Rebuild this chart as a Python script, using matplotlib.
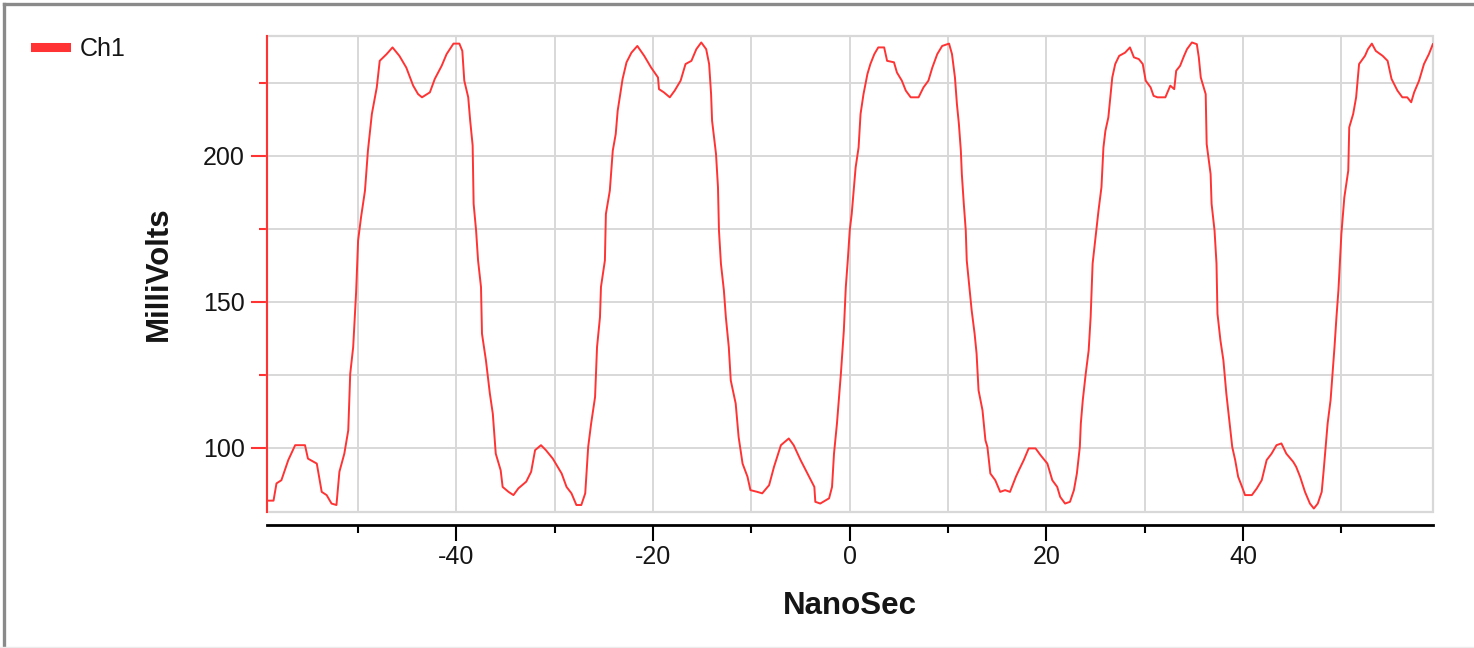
import matplotlib
matplotlib.use("Agg")
import matplotlib.pyplot as plt
from matplotlib.ticker import MultipleLocator
from matplotlib.patches import Rectangle
from matplotlib.lines import Line2D

# --- data (NanoSec, MilliVolts) ---
nanosec = [
    -59.3, -58.6, -58.3, -57.8, -57.1, -56.4, -55.4, -55.1, -54.2, -53.7,
    -53.2, -52.7, -52.2, -51.9, -51.4, -51.0, -50.8, -50.5, -50.2, -50.0,
    -49.7, -49.3, -49.0, -48.6, -48.1, -47.8, -47.1, -46.5, -45.8, -45.1,
    -44.4, -43.9, -43.5, -42.7, -42.2, -41.5, -41.0, -40.3, -39.7, -39.4,
    -39.2, -38.8, -38.6, -38.35, -38.25, -38.0, -37.8, -37.5, -37.4, -37.0,
    -36.6, -36.3, -36.0, -35.5, -35.3, -34.7, -34.2, -33.7, -32.9, -32.4,
    -32.0, -31.4, -30.9, -30.2,
    -29.3, -28.8, -28.3, -27.8, -27.3, -26.9, -26.6, -26.3, -25.9, -25.7,
    -25.4, -25.3, -24.9, -24.8, -24.4, -24.1, -23.8, -23.6, -23.1, -22.7,
    -22.2, -21.6, -20.9, -20.2, -19.5, -19.4, -18.9, -18.3, -17.8, -17.2,
    -16.7, -16.1, -15.6, -15.1, -14.6, -14.3, -14.1, -14.0, -13.6, -13.4,
    -13.3, -13.1, -12.8, -12.6, -12.3, -12.1, -11.6, -11.3, -10.9, -10.4,
    -10.1, -9.4, -8.9, -8.2, -7.7, -7.0, -6.2, -5.7, -5.0, -4.3,
    -3.6, -3.5, -3.0, -2.1, -1.8, -1.6, -1.3, -0.9, -0.6,
    -0.4, -0.2, 0.0, 0.2, 0.6, 0.9, 1.1, 1.4, 1.8, 2.1,
    2.5, 2.9, 3.5, 3.8, 4.5, 4.8, 5.3, 5.7, 6.2, 7.0,
    7.5, 8.0, 8.4, 8.9, 9.4, 10.1, 10.4, 10.7, 10.9, 11.1,
    11.3, 11.4, 11.6, 11.8, 11.9, 12.2, 12.4, 12.7, 12.9, 13.1,
    13.5, 13.8, 14.0, 14.3, 14.8, 15.3, 15.8, 16.3, 16.9, 17.2,
    17.7, 18.2, 18.9, 19.4, 20.1, 20.6, 21.1, 21.4, 21.9, 22.4,
    22.8, 23.1, 23.4, 23.5, 23.7, 24.0, 24.3, 24.5, 24.7, 25.0,
    25.3, 25.6, 25.8, 26.0, 26.3, 26.5, 26.7, 27.0, 27.4, 28.0,
    28.5, 28.9, 29.4,
    29.8, 30.1, 30.6, 30.9, 31.3, 32.1, 32.6, 33.0, 33.2, 33.6,
    34.0, 34.3, 34.8, 35.3, 35.5, 35.7, 36.2, 36.3, 36.7, 36.8,
    37.1, 37.3, 37.4, 37.7, 38.0, 38.3, 38.6, 38.9, 39.2, 39.5,
    39.9, 40.2, 40.9, 41.4, 41.9, 42.4, 42.9, 43.4, 43.9, 44.4,
    45.1, 45.4, 45.8, 46.3, 46.8, 47.2, 47.6, 48.0, 48.2, 48.4,
    48.6, 48.9, 49.1, 49.3, 49.5, 49.7, 50.0, 50.3, 50.7, 50.8,
    51.2, 51.5, 51.8, 52.4, 52.7, 53.1, 53.5, 54.2, 54.7, 55.1,
    55.7, 56.2, 56.7, 57.1, 57.4, 57.9, 58.4, 58.9, 59.3,
]
millivolts = [
    81.8, 81.8, 87.7, 88.8, 95.7, 100.8, 100.8, 96.2, 94.5, 84.8,
    83.7, 80.8, 80.3, 91.7, 97.9, 105.9, 125.3, 134.4, 153.3, 170.9,
    178.9, 188.0, 201.7, 214.3, 223.4, 232.5, 234.8, 237.1, 234.2, 230.2,
    224.0, 221.1, 220.0, 221.7, 226.3, 230.8, 234.8, 238.4, 238.4, 235.9,
    225.7, 220.0, 212.0, 203.5, 183.5, 174.4, 164.1, 155.0, 139.0, 129.9,
    118.5, 111.6, 97.9, 92.2, 86.5, 84.8, 83.7, 86.0, 88.3, 91.7,
    99.1, 100.8, 99.1, 96.2,
    91.1, 86.5, 84.3, 80.3, 80.3, 84.3, 100.2, 108.2, 117.3, 134.4,
    144.7, 155.0, 164.1, 180.0, 188.0, 201.7, 207.4, 215.4, 226.3, 232.0,
    235.3, 237.6, 234.2, 230.2, 226.8, 222.8, 221.7, 220.0, 222.3, 225.7,
    231.4, 232.5, 236.5, 238.8, 236.5, 231.4, 221.1, 212.0, 200.6, 189.2,
    174.4, 163.0, 153.9, 144.7, 134.4, 123.0, 115.1, 103.6, 94.5, 90.0,
    85.4, 84.8, 84.3, 87.1, 93.4, 100.8, 103.1, 100.8, 95.7, 91.1,
    86.5, 81.4, 80.8, 82.6, 86.5, 97.9, 108.2, 125.3, 140.1,
    155.0, 164.1, 174.4, 180.0, 196.0, 202.8, 214.3, 221.1, 228.0, 231.4,
    234.8, 237.1, 237.1, 232.5, 232.0, 228.5, 225.7, 222.3, 220.0, 220.0,
    223.4, 225.7, 230.2, 234.8, 237.6, 238.4, 234.8, 226.8, 217.7, 210.9,
    201.7, 193.7, 183.5, 174.4, 164.1, 153.9, 147.0, 139.0, 132.2, 119.6,
    112.8, 102.5, 100.2, 91.1, 88.8, 84.8, 85.4, 84.8, 90.0, 92.2,
    95.7, 99.7, 99.7, 97.4, 94.5, 88.8, 86.5, 83.1, 80.8, 81.4,
    85.4, 91.1, 100.2, 108.2, 116.2, 125.3, 133.3, 144.7, 163.0, 172.1,
    181.2, 189.2, 202.8, 208.5, 213.1, 220.0, 226.8, 231.4, 234.2, 235.3,
    237.1, 233.7, 233.1,
    231.4, 225.7, 223.4, 220.5, 220.0, 220.0, 224.0, 222.8, 229.1, 230.8,
    234.2, 236.5, 238.8, 238.2, 233.7, 226.8, 221.1, 204.0, 193.7, 183.5,
    174.4, 163.0, 145.8, 136.7, 129.9, 118.5, 109.4, 100.2, 95.7, 90.0,
    86.5, 83.7, 83.7, 86.0, 88.8, 95.7, 97.9, 100.8, 101.4, 97.9,
    95.1, 93.4, 90.0, 84.8, 80.8, 79.1, 80.8, 84.8, 92.2, 100.2,
    108.2, 116.2, 125.3, 134.4, 144.7, 153.9, 173.2, 185.7, 194.9, 209.7,
    214.3, 220.0, 231.4, 234.2, 236.5, 238.4, 235.9, 234.2, 232.5, 226.3,
    222.3, 220.0, 220.0, 218.3, 221.7, 225.7, 231.4, 234.8, 238.2,
]
series_name = "Ch1"
x_label = "NanoSec"
y_label = "MilliVolts"

# --- styling ---
TRACE = "#ff3333"
GRID = "#d8d8d8"
TEXT = "#151515"
plt.rcParams["font.family"] = ["Liberation Sans", "DejaVu Sans"]
plt.rcParams["axes.unicode_minus"] = False

fig = plt.figure(figsize=(14.74, 6.48), dpi=100)
ax = fig.add_axes([0.1809, 0.2103, 0.7915, 0.7341])

line, = ax.plot(nanosec, millivolts, color=TRACE, lw=1.4, label=series_name, zorder=3)

ax.set_xlim(-59.3, 59.35)
ax.set_ylim(78, 241)

ax.xaxis.set_major_locator(MultipleLocator(20))
ax.xaxis.set_minor_locator(MultipleLocator(10))
ax.yaxis.set_major_locator(MultipleLocator(50))
ax.yaxis.set_minor_locator(MultipleLocator(25))
ax.grid(which="both", color=GRID, lw=1.4)
ax.set_axisbelow(True)

# plot area border (gray), left spine red, detached black x axis
ax.add_patch(Rectangle((0, 0), 1, 1, transform=ax.transAxes, fill=False,
                       ec=GRID, lw=1.6, clip_on=False, zorder=1))
ax.spines["top"].set_visible(False)
ax.spines["right"].set_visible(False)
ax.spines["left"].set_color(TRACE)
ax.spines["left"].set_linewidth(1.5)
ax.spines["bottom"].set_position(("outward", 9.6))
ax.spines["bottom"].set_color("black")
ax.spines["bottom"].set_linewidth(2.0)

ax.tick_params(axis="x", which="both", direction="out", color="black", width=1.5,
               labelsize=18, labelcolor=TEXT, pad=2.6)
ax.tick_params(axis="x", which="major", length=11.5)
ax.tick_params(axis="x", which="minor", length=5.8)
ax.tick_params(axis="y", which="both", direction="out", color=TRACE, width=1.5,
               labelsize=18, labelcolor=TEXT, pad=4)
ax.tick_params(axis="y", which="major", length=11.5)
ax.tick_params(axis="y", which="minor", length=5.8)

ax.set_xlabel(x_label, fontsize=22.5, fontweight="bold", color=TEXT)
ax.xaxis.set_label_coords(0.5, -0.215)
ax.xaxis.label.set_verticalalignment("baseline")
ax.set_ylabel(y_label, fontsize=22.5, fontweight="bold", color=TEXT)
ax.yaxis.set_label_coords(-0.0923, 0.5)
ax.yaxis.label.set_verticalalignment("center")

leg = ax.legend(loc="upper left", bbox_to_anchor=(35 / 1474, 1 - 37 / 648),
                bbox_transform=fig.transFigure, frameon=False, fontsize=18,
                borderpad=0, borderaxespad=0, handlelength=1.23, handletextpad=0.56)
leg.legend_handles[0].set_linewidth(6.5)
for t in leg.get_texts():
    t.set_color(TEXT)

# window frame at top and left
fig.add_artist(Line2D([0.003, 0.003], [0, 0.994], transform=fig.transFigure,
                      color="#8a8a8a", lw=2.4))
fig.add_artist(Line2D([0.003, 1], [0.994, 0.994], transform=fig.transFigure,
                      color="#8a8a8a", lw=2.4))
fig.add_artist(Line2D([0, 1], [0.001, 0.001], transform=fig.transFigure,
                      color="#ececec", lw=1))

fig.savefig("out.png", dpi=100)
